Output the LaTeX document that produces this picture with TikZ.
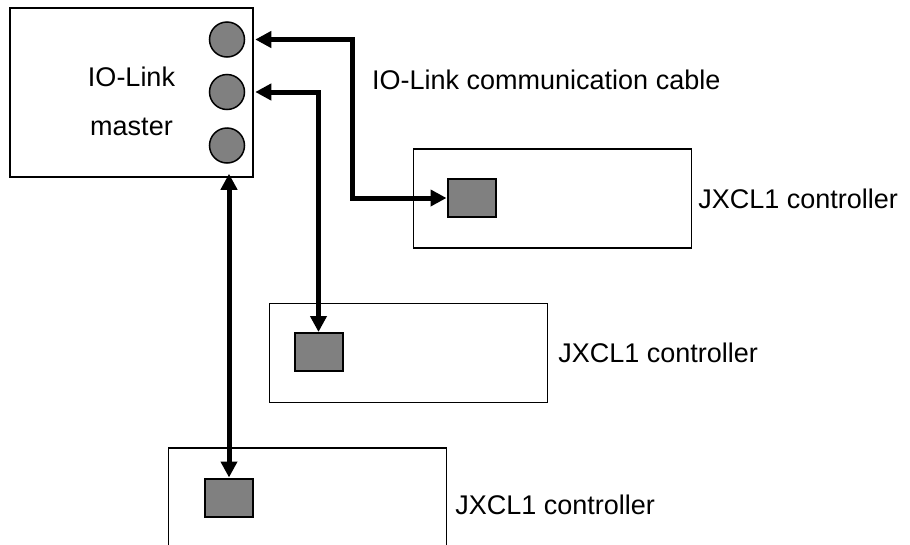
\documentclass[tikz,border=0pt]{standalone}
\usepackage{fontspec}
\setmainfont{Liberation Sans}
\usetikzlibrary{positioning, arrows.meta}

\begin{document}
\begin{tikzpicture}[x=1pt, y=-1pt, node distance=8pt,
    font=\fontsize{27}{32}\selectfont,
    box/.style={draw, line width=1.5pt, minimum width=278pt, minimum height=99pt, inner sep=0pt},
    port/.style={draw, circle, line width=1.5pt, fill=gray, minimum size=35pt, inner sep=0pt},
    plug/.style={draw, line width=2pt, fill=gray, minimum width=48pt, minimum height=38pt, inner sep=0pt},
    txt/.style={inner sep=0pt},
    cable/.style={line width=5pt, {Triangle[length=16pt,width=16pt]}-{Triangle[length=16pt,width=16pt]}, shorten <=10pt}]
  \clip (0,0) rectangle (910,544);

  \node[draw, line width=1.5pt, minimum width=243pt, minimum height=169pt]  (master)  at (131.5,92.5)  {};
  \node[txt, align=center, anchor=base]  (mastertext)  at (131.5,135)  {IO-Link\\[17pt]master};
  \node[port]  (p1)  at (227,39.5)  {};
  \node[port]  (p2)  at (227,92)  {};
  \node[port]  (p3)  at (227,145.5)  {};

  \node[box]  (c1)  at (552.5,198.5)  {};
  \node[box]  (c2)  at (408.5,353)  {};
  \node[box]  (c3)  at (307.5,497.5)  {};
  \node[plug]  (sb1)  at (471.5,198)  {};
  \node[plug]  (sb2)  at (318.5,352)  {};
  \node[plug]  (sb3)  at (229,497.5)  {};

  \node[txt, right = 6pt of c1]  (t1)  {JXCL1 controller};
  \node[txt, right = 10pt of c2]  (t2)  {JXCL1 controller};
  \node[txt, right = 8pt of c3, yshift=-7pt]  (t3)  {JXCL1 controller};
  \node[txt, anchor=base west]  (cabletext)  at (372,89.5)  {IO-Link communication cable};

  \coordinate (bend1) at (352,0);
  \draw[cable] (p1.east) -| (bend1 |- sb1.west) -- (sb1.west);
  \draw[cable] (p2.east) -| (sb2.north);
  \draw[cable] (p3.south -| sb3.north) -- (sb3.north);
\end{tikzpicture}
\end{document}
